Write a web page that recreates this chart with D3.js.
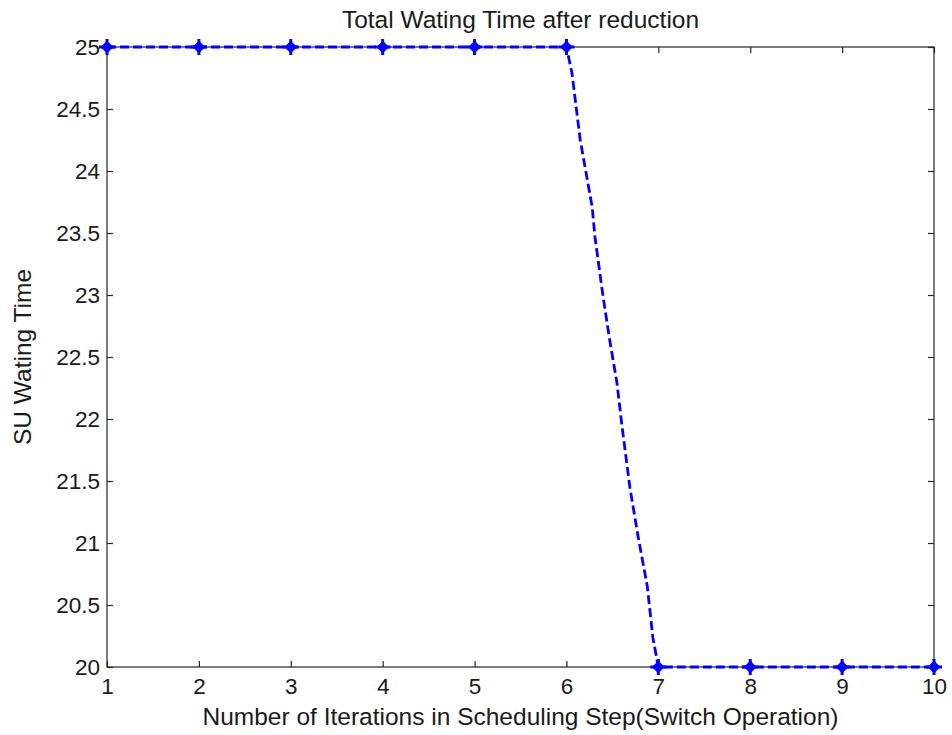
<!DOCTYPE html>
<html>
<head>
<meta charset="utf-8">
<script src="https://cdn.jsdelivr.net/npm/d3@7/dist/d3.min.js"></script>
<style>
  html, body { margin: 0; padding: 0; background: #fff; }
  svg { display: block; font-family: "Liberation Sans", Arial, sans-serif; }
</style>
</head>
<body>
<svg id="chart" width="952" height="735"></svg>
<script>
// Iterations and the waiting time measured at each one
const iterations = [1, 2, 3, 4, 5, 6, 7, 8, 9, 10];
const waitingTime = [25, 25, 25, 25, 25, 25, 20, 20, 20, 20];

// Traced path of the drop between iterations 6 and 7
const dropX = [6.00, 6.06, 6.15, 6.28, 6.31, 6.40, 6.47, 6.55, 6.60, 6.69, 6.78, 6.88, 6.94, 7.00];
const dropY = [25.00, 24.79, 24.25, 23.71, 23.47, 22.98, 22.64, 22.29, 21.97, 21.45, 21.05, 20.65, 20.24, 20.00];

const xTicks = [1, 2, 3, 4, 5, 6, 7, 8, 9, 10];
const yTicks = [20, 20.5, 21, 21.5, 22, 22.5, 23, 23.5, 24, 24.5, 25];

const titleText = "Total Wating Time after reduction";
const xLabelText = "Number of Iterations in Scheduling Step(Switch Operation)";
const yLabelText = "SU Wating Time";

const svg = d3.select("#chart");
const plotLeft = 107, plotRight = 934, plotTop = 47, plotBottom = 667;

const x = d3.scaleLinear().domain([1, 10]).range([plotLeft, plotRight]);
const y = d3.scaleLinear().domain([20, 25]).range([plotBottom, plotTop]);

// Build the full polyline: flat runs plus the traced drop
const linePts = [];
iterations.forEach((it, i) => {
  if (it === 6) {
    dropX.forEach((dx, j) => linePts.push([dx, dropY[j]]));
  } else if (it !== 7) {
    linePts.push([it, waitingTime[i]]);
  }
});
linePts.sort((a, b) => a[0] - b[0]);

// Axis box
svg.append("rect")
  .attr("x", plotLeft).attr("y", plotTop)
  .attr("width", plotRight - plotLeft).attr("height", plotBottom - plotTop)
  .attr("fill", "none").attr("stroke", "#262626").attr("stroke-width", 1.2);

const tickLen = 6;
const tickColor = "#262626";
const tickFont = 22.5;
const labelFont = 24.5;

// X axis ticks (inward, bottom and top) and labels
const xAxisBottom = svg.append("g").attr("transform", `translate(0,${plotBottom})`)
  .call(d3.axisBottom(x).tickValues(xTicks).tickSizeInner(-tickLen).tickSizeOuter(0).tickPadding(11).tickFormat(d3.format("d")));
const xAxisTop = svg.append("g").attr("transform", `translate(0,${plotTop})`)
  .call(d3.axisTop(x).tickValues(xTicks).tickSizeInner(-tickLen).tickSizeOuter(0).tickFormat(""));

// Y axis ticks (inward, left and right) and labels
const yAxisLeft = svg.append("g").attr("transform", `translate(${plotLeft},0)`)
  .call(d3.axisLeft(y).tickValues(yTicks).tickSizeInner(-tickLen).tickSizeOuter(0).tickPadding(7).tickFormat(d => String(d)));
const yAxisRight = svg.append("g").attr("transform", `translate(${plotRight},0)`)
  .call(d3.axisRight(y).tickValues(yTicks).tickSizeInner(-tickLen).tickSizeOuter(0).tickFormat(""));

[xAxisBottom, xAxisTop, yAxisLeft, yAxisRight].forEach(g => {
  g.select(".domain").remove();
  g.selectAll(".tick line").attr("stroke", tickColor).attr("stroke-width", 1.2);
  g.selectAll(".tick text")
    .attr("fill", "#1a1a1a")
    .style("font-family", '"Liberation Sans", Arial, sans-serif')
    .style("font-size", tickFont + "px");
});

// Data line (dashed)
const line = d3.line().x(d => x(d[0])).y(d => y(d[1]));
svg.append("path")
  .datum(linePts)
  .attr("d", line)
  .attr("fill", "none")
  .attr("stroke", "#0000ff")
  .attr("stroke-width", 2.8)
  .attr("stroke-dasharray", "9,4");

// Star markers at each iteration: a solid core with cross spikes
const r = 8, core = 4.5;
const markerPath = `M${-r},0L${r},0M0,${-r}L0,${r}`;
const corePath = `M${-core},0L0,${-core}L${core},0L0,${core}Z`;
const markers = svg.append("g").selectAll("g")
  .data(iterations.map((it, i) => [it, waitingTime[i]]))
  .join("g")
  .attr("transform", d => `translate(${x(d[0])},${y(d[1])})`);
markers.append("path")
  .attr("d", markerPath)
  .attr("fill", "none")
  .attr("stroke", "#0000ff")
  .attr("stroke-width", 3);
markers.append("path")
  .attr("d", corePath)
  .attr("fill", "#0000ff")
  .attr("stroke", "#0000ff")
  .attr("stroke-width", 2.5)
  .attr("stroke-linejoin", "round");

// Title and axis labels
svg.append("text")
  .attr("x", (plotLeft + plotRight) / 2).attr("y", 28)
  .attr("text-anchor", "middle")
  .attr("fill", "#1a1a1a")
  .style("font-size", labelFont + "px")
  .text(titleText);

svg.append("text")
  .attr("x", (plotLeft + plotRight) / 2).attr("y", 725)
  .attr("text-anchor", "middle")
  .attr("fill", "#1a1a1a")
  .style("font-size", labelFont + "px")
  .text(xLabelText);

svg.append("text")
  .attr("transform", `translate(31,${(plotTop + plotBottom) / 2}) rotate(-90)`)
  .attr("text-anchor", "middle")
  .attr("fill", "#1a1a1a")
  .style("font-size", labelFont + "px")
  .text(yLabelText);
</script>
</body>
</html>
